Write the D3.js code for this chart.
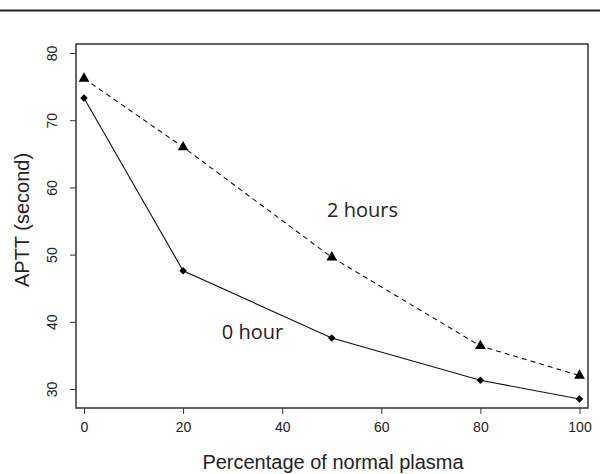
<!DOCTYPE html>
<html>
<head>
<meta charset="utf-8">
<script src="https://cdn.jsdelivr.net/npm/d3@7"></script>
<style>
  html, body { margin: 0; padding: 0; background: #fff; }
  svg { display: block; }
</style>
</head>
<body>
<div id="chart"></div>
<script>
// ---- data ----
const percentages = [0, 20, 50, 80, 100];
const hours0 = [73.3, 47.6, 37.6, 31.3, 28.5];
const hours2 = [76.2, 66.0, 49.6, 36.4, 32.0];
const xTicks = [0, 20, 40, 60, 80, 100];
const yTicks = [30, 40, 50, 60, 70, 80];
const seriesLabels = ["0 hour", "2 hours"];
const labelPositions = [{x: 34, y: 38.5}, {x: 56.2, y: 56.7}];

const W = 600, H = 474;
const box = {left: 76, right: 588, top: 44, bottom: 408};

const svg = d3.select("#chart").append("svg")
  .attr("width", W).attr("height", H);

// top rule
svg.append("line")
  .attr("x1", 0).attr("x2", W).attr("y1", 10.5).attr("y2", 10.5)
  .attr("stroke", "#222").attr("stroke-width", 2);

const x = d3.scaleLinear().domain([0, 100]).range([84, 579.5]);
const y = d3.scaleLinear().domain([30, 80]).range([389, 53]);

// plot box
svg.append("rect")
  .attr("x", box.left).attr("y", box.top)
  .attr("width", box.right - box.left).attr("height", box.bottom - box.top)
  .attr("fill", "none").attr("stroke", "#333").attr("stroke-width", 1.5);

// x axis
const xAxis = svg.append("g")
  .attr("transform", `translate(0,${box.bottom})`)
  .call(d3.axisBottom(x).tickValues(xTicks).tickSize(6).tickPadding(8).tickFormat(d3.format("d")));
xAxis.select(".domain").remove();
xAxis.selectAll("line").attr("stroke", "#333").attr("stroke-width", 1);
xAxis.selectAll("text").attr("font-family", "Liberation Sans, Arial, sans-serif")
  .attr("font-size", 14).attr("fill", "#222");

// y axis
const yAxis = svg.append("g")
  .attr("transform", `translate(${box.left},0)`)
  .call(d3.axisLeft(y).tickValues(yTicks).tickSize(6).tickFormat(d3.format("d")));
yAxis.select(".domain").remove();
yAxis.selectAll("line").attr("stroke", "#333").attr("stroke-width", 1);
yAxis.selectAll("text")
  .attr("font-family", "Liberation Sans, Arial, sans-serif")
  .attr("font-size", 14).attr("fill", "#222")
  .attr("text-anchor", "middle").attr("x", null)
  .attr("transform", "translate(-24,0) rotate(-90)")
  .attr("dy", "0.35em");

// axis titles
svg.append("text")
  .attr("x", 333).attr("y", 469)
  .attr("text-anchor", "middle")
  .attr("font-family", "Liberation Sans, Arial, sans-serif")
  .attr("font-size", 20).attr("fill", "#222")
  .text("Percentage of normal plasma");

svg.append("text")
  .attr("transform", "translate(29,220) rotate(-90)")
  .attr("text-anchor", "middle")
  .attr("font-family", "Liberation Sans, Arial, sans-serif")
  .attr("font-size", 20).attr("fill", "#222")
  .text("APTT (second)");

// lines
const line = d3.line().x(d => x(d[0])).y(d => y(d[1]));
const d0 = percentages.map((p, i) => [p, hours0[i]]);
const d2 = percentages.map((p, i) => [p, hours2[i]]);

svg.append("path").datum(d0).attr("d", line)
  .attr("fill", "none").attr("stroke", "#111").attr("stroke-width", 1.1);
svg.append("path").datum(d2).attr("d", line)
  .attr("fill", "none").attr("stroke", "#111").attr("stroke-width", 1.1)
  .attr("stroke-dasharray", "5,4");

// markers
svg.selectAll(".m0").data(d0).enter().append("path")
  .attr("transform", d => `translate(${x(d[0])},${y(d[1])}) rotate(45)`)
  .attr("d", d3.symbol().type(d3.symbolSquare).size(28))
  .attr("fill", "#000");
svg.selectAll(".m2").data(d2).enter().append("path")
  .attr("transform", d => `translate(${x(d[0])},${y(d[1])})`)
  .attr("d", d3.symbol().type(d3.symbolTriangle).size(50))
  .attr("fill", "#000");

// series labels
svg.selectAll(".lab").data(seriesLabels).enter().append("text")
  .attr("x", (d, i) => x(labelPositions[i].x))
  .attr("y", (d, i) => y(labelPositions[i].y))
  .attr("text-anchor", "middle")
  .attr("dy", "0.35em")
  .attr("font-family", "Open Sans, sans-serif")
  .attr("font-size", 20).attr("fill", "#222")
  .text(d => d);
</script>
</body>
</html>
